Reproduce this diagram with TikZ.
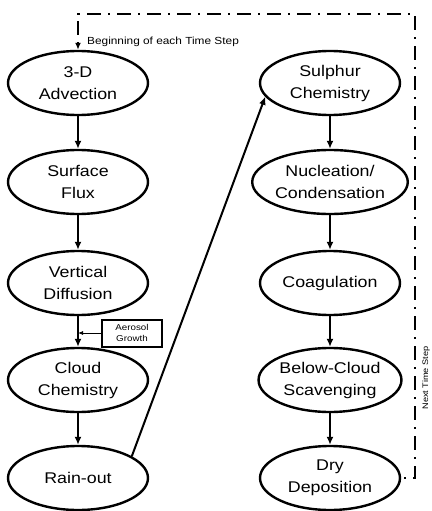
\documentclass[tikz,border=0pt]{standalone}
\usepackage{fontspec}
\setmainfont{Liberation Sans}[FakeStretch=1.15]
\usepackage{tikz}
\usetikzlibrary{positioning, arrows.meta, shapes}

\begin{document}
\begin{tikzpicture}[
    % GLOBAL CFG
    x=1pt, y=-1pt,
    >={Latex[length=8pt,width=7pt]},
    % Styles
    process/.style={% For the model steps
        ellipse,
        draw,
        line width=2.4pt,
        minimum width=140pt,
        minimum height=64pt,
        inner sep=0pt,
        align=center,
        font=\fontsize{15.5}{22}\selectfont,
        },
    notebox/.style={% For the small side box
        rectangle,
        draw,
        line width=2pt,
        minimum width=60pt,
        minimum height=27pt,
        inner sep=1pt,
        align=center,
        font=\fontsize{8.5}{11}\selectfont,
        },
    mylabel/.style={% small texts
        font=\fontsize{10.3}{12}\selectfont,
        inner sep=1pt,
        },
    ArrowC1/.style={% main arrows
        ->,
        line width=2pt,
        },
    ArrowC2/.style={% the loop back
        ->,
        line width=2pt,
        dash pattern=on 2pt off 7pt on 14pt off 7pt,
        >={Latex[length=7pt,width=6pt]},
        },
    ]

    \useasboundingbox (0,0) rectangle (431,511);

    % Draw the steps of the left column
    \node [process] (adv) at (78,83) {3-D\\Advection};
    \node [process] (surf) at (78,182) {Surface\\Flux};
    \node [process] (vdiff) at (78,283) {Vertical\\Diffusion};
    \node [process] (cloud) at (78,380) {Cloud\\Chemistry};
    \node [process] (rain) at (78,478) {Rain-out};

    % Draw the steps of the right column
    \node [process] (sulph) at (330,83) {Sulphur\\Chemistry};
    \node [process] (nucl) at (330,182) {Nucleation/\\Condensation};
    \node [process] (coag) at (330,283) {Coagulation};
    \node [process] (below) at (330,380) {Below-Cloud\\Scavenging};
    \node [process] (dry) at (330,478) {Dry\\Deposition};

    % Side box
    \node [notebox] (aero) at (132,333) {Aerosol\\Growth};

    % Labels
    \node [mylabel, anchor=west] (begin) at (86,42) {Beginning of each Time Step};
    \node [mylabel, font=\fontsize{8}{10}\selectfont, rotate=90] (next) at (426,378) {Next Time Step};

% Start connecting all.
    \draw [ArrowC1] (adv) -- (surf);
    \draw [ArrowC1] (surf) -- (vdiff);
    \draw [ArrowC1] (vdiff) -- (cloud);
    \draw [ArrowC1] (cloud) -- (rain);
    \draw [ArrowC1] (rain.22) -- (sulph.192);
    \draw [ArrowC1] (sulph) -- (nucl);
    \draw [ArrowC1] (nucl) -- (coag);
    \draw [ArrowC1] (coag) -- (below);
    \draw [ArrowC1] (below) -- (dry);

    \draw [->, line width=0.8pt, >={Latex[length=5pt,width=4pt]}] (aero.west) -- (aero.west -| vdiff.south);

    % Loop back to the start
    \coordinate (loopR) at (415,14);
    \draw [ArrowC2] ([xshift=3pt]dry.east) -| (loopR) -| (adv.north);

\end{tikzpicture}
\end{document}
